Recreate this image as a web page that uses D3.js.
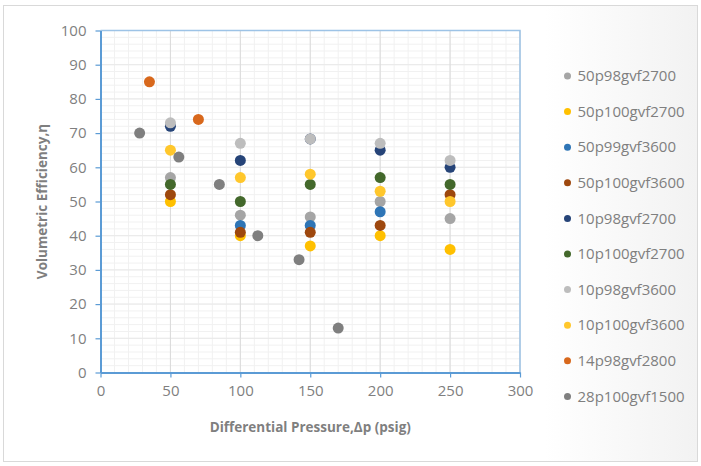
<!DOCTYPE html>
<html>
<head>
<meta charset="utf-8">
<script src="https://cdn.jsdelivr.net/npm/d3@7"></script>
<style>
    body { margin: 0; background: #ffffff; }
    #chart text { font-family: "Open Sans", "DejaVu Sans", sans-serif; }
</style>
</head>
<body>
<div id="chart"></div>
<script>
// series names and colours (legend order = drawing order)
let seriesNames = ['50p98gvf2700', '50p100gvf2700', '50p99gvf3600', '50p100gvf3600', '10p98gvf2700',
    '10p100gvf2700', '10p98gvf3600', '10p100gvf3600', '14p98gvf2800', '28p100gvf1500'];
let seriesColors = ['#a5a5a5', '#ffc000', '#2e75b6', '#9e480e', '#264478',
    '#43682b', '#bdbdbd', '#ffc72c', '#d8681c', '#7f7f7f'];

// x values (psig) and y values (volumetric efficiency) per series
let x50p98gvf2700 = [50, 100, 150, 200, 250];
let y50p98gvf2700 = [57, 46, 45.5, 50, 45];
let x50p100gvf2700 = [50, 100, 150, 200, 250];
let y50p100gvf2700 = [50, 40, 37, 40, 36];
let x50p99gvf3600 = [100, 150, 200];
let y50p99gvf3600 = [43, 43, 47];
let x50p100gvf3600 = [50, 100, 150, 200, 250];
let y50p100gvf3600 = [52, 41, 41, 43, 52];
let x10p98gvf2700 = [50, 100, 150, 200, 250];
let y10p98gvf2700 = [72, 62, 68.3, 65, 60];
let x10p100gvf2700 = [50, 100, 150, 200, 250];
let y10p100gvf2700 = [55, 50, 55, 57, 55];
let x10p98gvf3600 = [50, 100, 150, 200, 250];
let y10p98gvf3600 = [73, 67, 68.3, 67, 62];
let x10p100gvf3600 = [50, 100, 150, 200, 250];
let y10p100gvf3600 = [65, 57, 58, 53, 50];
let x14p98gvf2800 = [35, 70];
let y14p98gvf2800 = [85, 74];
let x28p100gvf1500 = [28, 56, 85, 112.5, 142, 170];
let y28p100gvf1500 = [70, 63, 55, 40, 33, 13];

let xTicks = [0, 50, 100, 150, 200, 250, 300];
let yTicks = [0, 10, 20, 30, 40, 50, 60, 70, 80, 90, 100];

let seriesX = [x50p98gvf2700, x50p100gvf2700, x50p99gvf3600, x50p100gvf3600, x10p98gvf2700,
    x10p100gvf2700, x10p98gvf3600, x10p100gvf3600, x14p98gvf2800, x28p100gvf1500];
let seriesY = [y50p98gvf2700, y50p100gvf2700, y50p99gvf3600, y50p100gvf3600, y10p98gvf2700,
    y10p100gvf2700, y10p98gvf3600, y10p100gvf3600, y14p98gvf2800, y28p100gvf1500];

let series = seriesNames.map((name, i) => ({
    name: name,
    color: seriesColors[i],
    points: seriesX[i].map((x, j) => ({x: x, y: seriesY[i][j]}))
}));

let W = 701, H = 466;
let margin = {top: 30.5, right: 181, bottom: 93.5, left: 100.5};
let width = W - margin.left - margin.right;
let height = H - margin.top - margin.bottom;

let svg = d3.select('#chart')
    .append('svg')
    .attr('width', W)
    .attr('height', H);

// chart area background with a soft shade towards the right edge
let grad = svg.append('defs').append('linearGradient')
    .attr('id', 'bg')
    .attr('x1', '0%').attr('x2', '100%')
    .attr('y1', '0%').attr('y2', '0%');
grad.append('stop').attr('offset', '78%').attr('stop-color', '#ffffff');
grad.append('stop').attr('offset', '100%').attr('stop-color', '#f2f2f2');

svg.append('rect')
    .attr('x', 3.5).attr('y', 5.5)
    .attr('width', W - 7).attr('height', H - 10)
    .attr('fill', 'url(#bg)')
    .attr('stroke', '#d9d9d9')
    .attr('stroke-width', 1);

let g = svg.append('g')
    .attr('transform', 'translate(' + margin.left + ', ' + margin.top + ')');

let x = d3.scaleLinear()
    .domain([0, 300])
    .range([0, width]);
let y = d3.scaleLinear()
    .domain([0, 100])
    .range([height, 0]);

g.append('rect')
    .attr('width', width)
    .attr('height', height)
    .attr('fill', '#ffffff');

// minor grid
g.append('g')
    .selectAll('line')
    .data(d3.range(0, 301, 10))
    .enter().append('line')
    .attr('x1', d => x(d)).attr('x2', d => x(d))
    .attr('y1', 0).attr('y2', height)
    .attr('stroke', '#f1f1f1');
g.append('g')
    .selectAll('line')
    .data(d3.range(0, 101, 2))
    .enter().append('line')
    .attr('x1', 0).attr('x2', width)
    .attr('y1', d => y(d)).attr('y2', d => y(d))
    .attr('stroke', '#f1f1f1');

// major grid
g.append('g')
    .selectAll('line')
    .data(yTicks)
    .enter().append('line')
    .attr('x1', 0).attr('x2', width)
    .attr('y1', d => y(d)).attr('y2', d => y(d))
    .attr('stroke', '#e9e9e9');
g.append('g')
    .selectAll('line')
    .data(xTicks)
    .enter().append('line')
    .attr('x1', d => x(d)).attr('x2', d => x(d))
    .attr('y1', 0).attr('y2', height)
    .attr('stroke', '#dadada');

// plot frame (top and right)
g.append('path')
    .attr('d', 'M0,0H' + width + 'V' + height)
    .attr('fill', 'none')
    .attr('stroke', '#9dc3e6')
    .attr('stroke-width', 1.5);

// axes
let xAxis = d3.axisBottom(x)
    .tickValues(xTicks)
    .tickSize(5)
    .tickPadding(8)
    .tickSizeOuter(0);
let yAxis = d3.axisLeft(y)
    .tickValues(yTicks)
    .tickSize(5)
    .tickPadding(9)
    .tickSizeOuter(0);

let gx = g.append('g')
    .attr('transform', `translate(0, ${height})`)
    .call(xAxis);
let gy = g.append('g')
    .call(yAxis);

[gx, gy].forEach(function (a) {
    a.select('.domain').attr('stroke', '#5b9bd5').attr('stroke-width', 2);
    a.selectAll('.tick line').attr('stroke', '#5b9bd5').attr('stroke-width', 1.2);
    a.selectAll('.tick text')
        .attr('fill', '#7f7f7f')
        .style('font-size', '15px');
});

// points
g.append('g')
    .selectAll('g')
    .data(series)
    .enter().append('g')
    .attr('fill', d => d.color)
    .selectAll('circle')
    .data(d => d.points)
    .enter().append('circle')
    .attr('cx', d => x(d.x))
    .attr('cy', d => y(d.y))
    .attr('r', 5.5);

// axis titles
svg.append('text')
    .attr('x', margin.left + width / 2)
    .attr('y', 432)
    .attr('text-anchor', 'middle')
    .attr('fill', '#7f7f7f')
    .style('font-size', '13.5px')
    .style('font-weight', 'bold')
    .text('Differential Pressure,Δp (psig)');

svg.append('text')
    .attr('transform', 'translate(47, ' + (margin.top + height / 2) + ') rotate(-90)')
    .attr('text-anchor', 'middle')
    .attr('fill', '#7f7f7f')
    .style('font-size', '13.5px')
    .style('font-weight', 'bold')
    .text('Volumetric Efficiency,η');

// legend
let legend = svg.append('g')
    .selectAll('g')
    .data(series)
    .enter().append('g')
    .attr('transform', (d, i) => 'translate(567.5, ' + (76 + i * 35.6) + ')');
legend.append('circle')
    .attr('r', 3.5)
    .attr('fill', d => d.color);
legend.append('text')
    .attr('x', 10)
    .attr('dy', '0.35em')
    .attr('fill', '#7f7f7f')
    .style('font-size', '15px')
    .text(d => d.name);
</script>
</body>
</html>
